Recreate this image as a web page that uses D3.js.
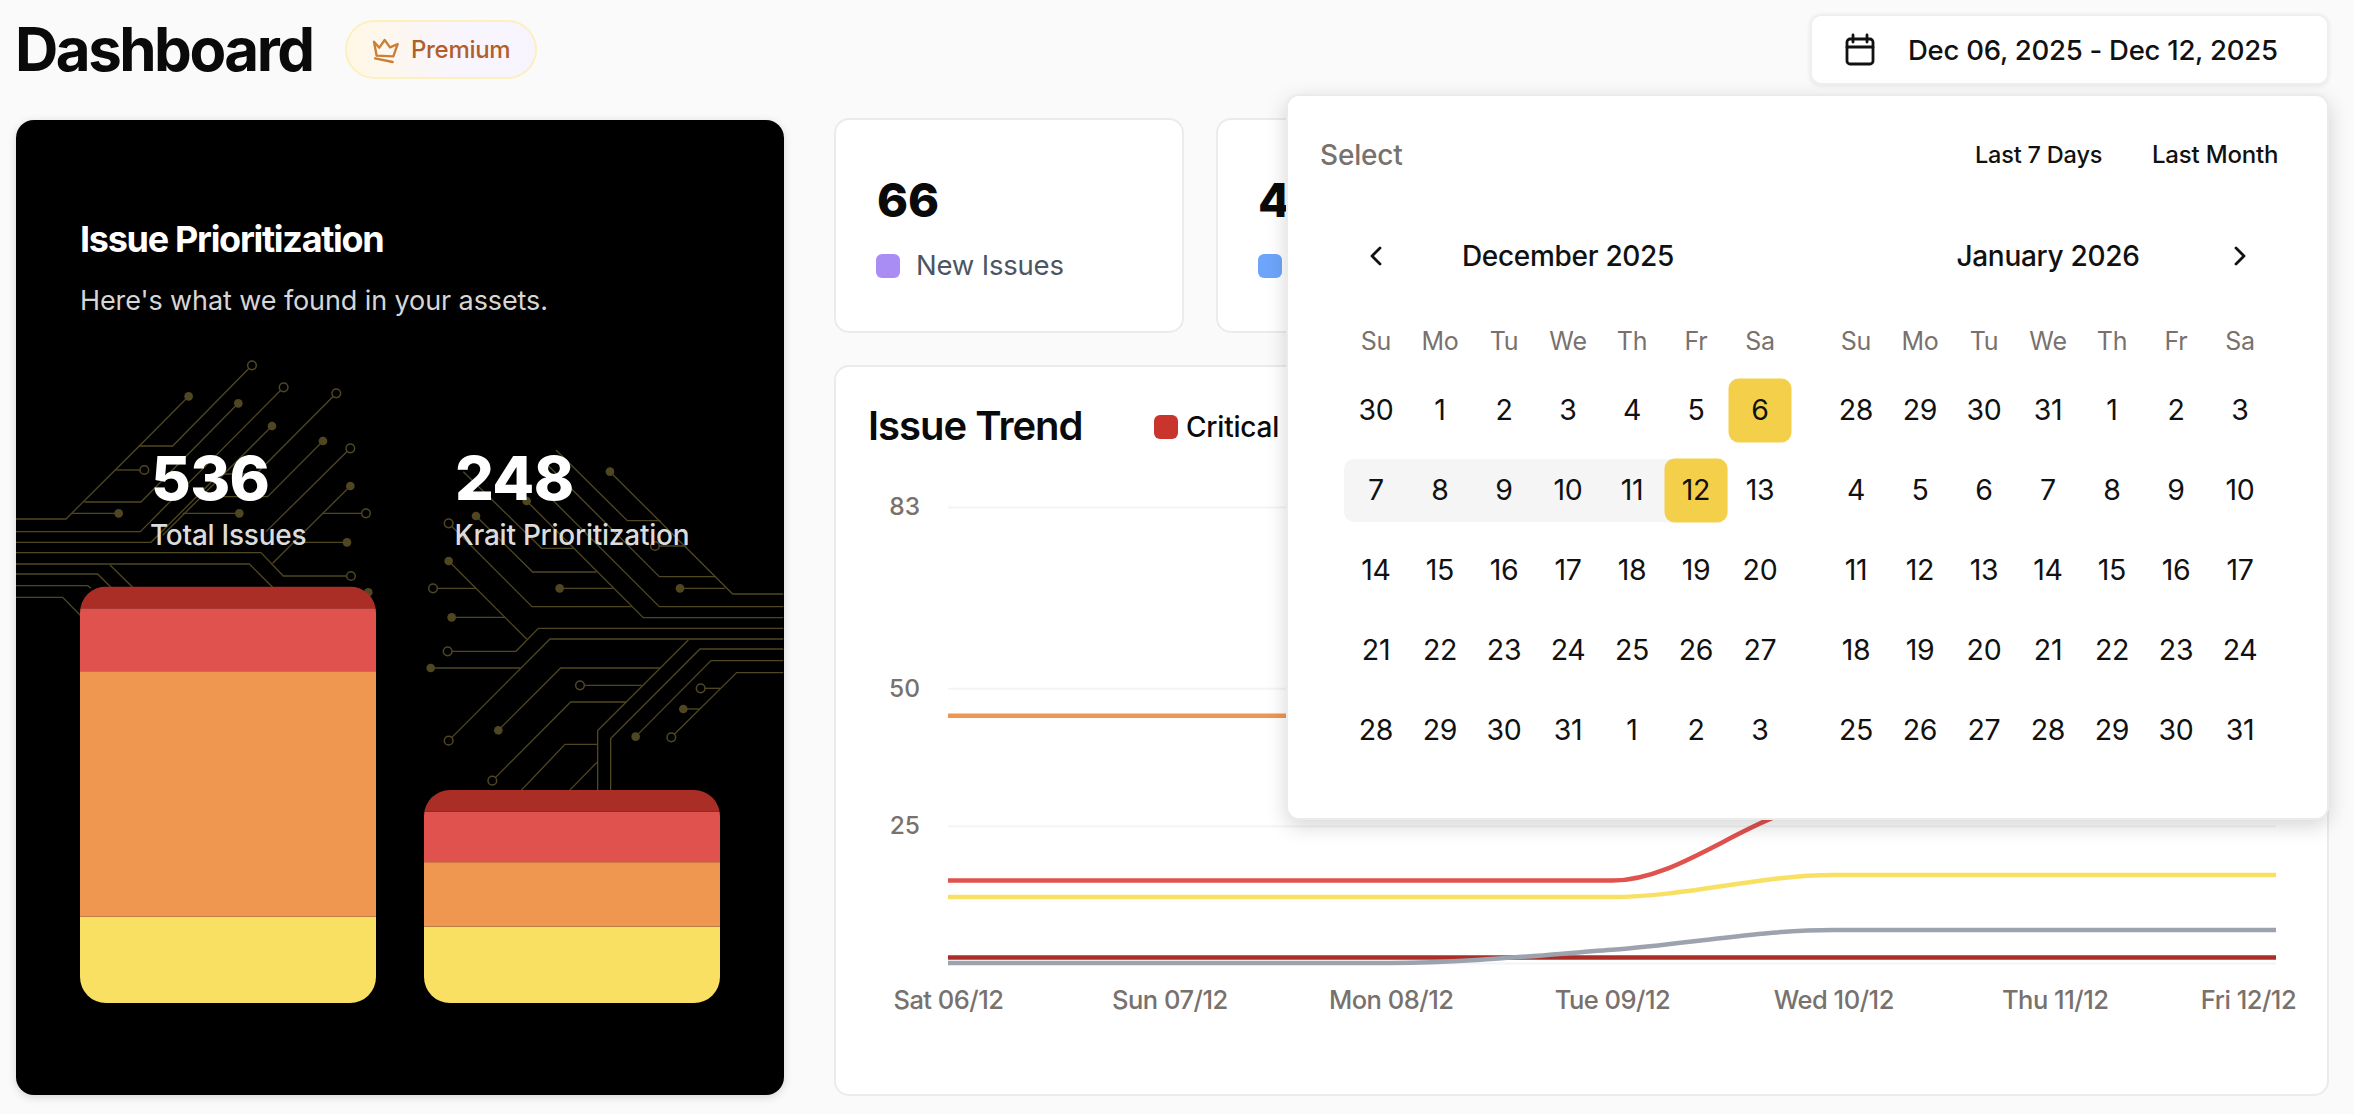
<!DOCTYPE html>
<html>
<head>
<meta charset="utf-8">
<title>Dashboard</title>
<script src="https://cdn.jsdelivr.net/npm/d3@7"></script>
<style>
  html, body { margin: 0; padding: 0; background: #fafafa; }
  svg { display: block; font-family: Inter, "Noto Sans", sans-serif; }
</style>
</head>
<body>
<div id="app"></div>
<script>
// ---- Data ----
const barNames = ['Total Issues', 'Krait Prioritization'];
const barTotals = [536, 248];
const barTops = [586.5, 790];
const severities = ['low', 'medium', 'high', 'critical'];
const lowCounts = [111, 89];
const mediumCounts = [316, 75];
const highCounts = [81, 59];
const criticalCounts = [28, 25];

const trendDays = ['Sat 06/12', 'Sun 07/12', 'Mon 08/12', 'Tue 09/12', 'Wed 10/12', 'Thu 11/12', 'Fri 12/12'];
const trendCritical = [1, 1, 1, 1, 1, 1, 1];
const trendHigh = [15, 15, 15, 15, 29, 29, 29];
const trendMedium = [45, 45, 45, 45, 45, 45, 45];
const trendLow = [12, 12, 12, 12, 16, 16, 16];
const trendInfo = [0, 0, 0, 2.4, 6, 6, 6];
const trendTicks = [0, 25, 50, 83];

const weekDays = ['Su', 'Mo', 'Tu', 'We', 'Th', 'Fr', 'Sa'];
const decemberDays = [
  [30, 1, 2, 3, 4, 5, 6], [7, 8, 9, 10, 11, 12, 13], [14, 15, 16, 17, 18, 19, 20],
  [21, 22, 23, 24, 25, 26, 27], [28, 29, 30, 31, 1, 2, 3]
];
const januaryDays = [
  [28, 29, 30, 31, 1, 2, 3], [4, 5, 6, 7, 8, 9, 10], [11, 12, 13, 14, 15, 16, 17],
  [18, 19, 20, 21, 22, 23, 24], [25, 26, 27, 28, 29, 30, 31]
];

// ---- Colours ----
const colors = { critical: '#AA2D26', high: '#DF524E', medium: '#EF9651', low: '#F9E063', info: '#9CA3AF' };
const circuitColor = '#4F4722';

// ---- SVG Setup ----
const width = 2354;
const height = 1114;
const svg = d3.select('#app').append('svg')
  .attr('width', width)
  .attr('height', height)
  .attr('viewBox', [0, 0, width, height]);

const defs = svg.append('defs');

function label(parent, str, x, y, size, weight, fill, spacing, anchor) {
  return parent.append('text')
    .attr('x', x)
    .attr('y', y)
    .attr('font-size', size)
    .attr('font-weight', weight)
    .attr('fill', fill)
    .attr('letter-spacing', spacing || 0)
    .attr('text-anchor', anchor || 'start')
    .text(str);
}

function card(x, y, w, h, r, fill, stroke, shadow) {
  return svg.append('rect')
    .attr('x', x).attr('y', y).attr('width', w).attr('height', h).attr('rx', r)
    .attr('fill', fill)
    .attr('stroke', stroke || 'none')
    .attr('stroke-width', 2)
    .style('filter', shadow || null);
}

// ---- Header ----
label(svg, 'Dashboard', 15, 71, 60, 700, '#0a0a0a', -2.5);

const pillGrad = defs.append('linearGradient').attr('id', 'pill-gradient');
pillGrad.append('stop').attr('offset', '0%').attr('stop-color', '#FFF8E6');
pillGrad.append('stop').attr('offset', '60%').attr('stop-color', '#F9F5FD');
pillGrad.append('stop').attr('offset', '100%').attr('stop-color', '#F8F4FE');
svg.append('rect')
  .attr('x', 346).attr('y', 21).attr('width', 190).attr('height', 57).attr('rx', 28.5)
  .attr('fill', 'url(#pill-gradient)')
  .attr('stroke', '#FCEFC0')
  .attr('stroke-width', 2);

// crown icon, in coordinates of a 3x crop
const crown = svg.append('g')
  .attr('transform', 'translate(340,15) scale(0.3333)')
  .attr('fill', 'none')
  .attr('stroke', '#CB7E35')
  .attr('stroke-width', 7)
  .attr('stroke-linejoin', 'round')
  .attr('stroke-linecap', 'round');
crown.append('path').attr('d', 'M102,80 L118,98 L134,75 L150,97 L173,87 L160,124 L110,122 Z');
crown.append('path').attr('d', 'M105,130 L158,141');
label(svg, 'Premium', 411, 58, 24, 500, '#B05F2B', -0.3);

// ---- Issue Prioritization card ----
card(16, 120, 768, 975, 18, '#000000', null, 'drop-shadow(0 2px 4px rgba(0,0,0,0.15))');

function circuit(tx, ty, lines, filled, hollow) {
  const g = svg.append('g')
    .attr('transform', `translate(${tx},${ty}) scale(0.3333)`);
  g.selectAll('path')
    .data(lines)
    .join('path')
    .attr('d', d3.line())
    .attr('fill', 'none')
    .attr('stroke', circuitColor)
    .attr('stroke-width', 4);
  g.selectAll('circle.filled')
    .data(filled)
    .join('circle')
    .attr('class', 'filled')
    .attr('cx', d => d[0]).attr('cy', d => d[1]).attr('r', 13)
    .attr('fill', circuitColor);
  g.selectAll('circle.hollow')
    .data(hollow)
    .join('circle')
    .attr('class', 'hollow')
    .attr('cx', d => d[0]).attr('cy', d => d[1]).attr('r', 13)
    .attr('fill', '#000')
    .attr('stroke', circuitColor)
    .attr('stroke-width', 4.5);
}

// left circuit decoration
circuit(16, 350, [
  [[708, 46], [470, 288], [370, 288], [150, 507], [0, 507]],
  [[518, 139], [370, 288]],
  [[803, 112], [373, 545], [0, 545]],
  [[667, 160], [375, 456], [205, 456]],
  [[385, 360], [300, 360]],
  [[308, 490], [170, 490]],
  [[961, 130], [720, 372], [610, 372], [405, 577], [0, 577]],
  [[768, 228], [440, 556]],
  [[670, 490], [500, 490]],
  [[921, 273], [755, 440], [590, 440]],
  [[1003, 295], [750, 545]],
  [[1003, 408], [770, 640]],
  [[1050, 490], [921, 490]],
  [[993, 577], [855, 577]],
  [[0, 608], [735, 608], [802, 678], [1005, 678]],
  [[0, 642], [700, 642], [770, 712]],
  [[282, 645], [350, 712]],
  [[0, 672], [245, 672], [285, 712]],
  [[0, 707], [215, 707], [225, 715]],
  [[0, 742], [140, 742], [195, 798]],
  [[1057, 727], [1030, 745]]
], [[518, 139], [667, 160], [768, 228], [921, 273], [1003, 408], [308, 490], [670, 490], [993, 577], [1057, 727]],
[[708, 46], [803, 112], [961, 130], [385, 360], [1003, 295], [1050, 490], [1005, 678]]);

// right circuit decoration
circuit(400, 450, [
  [[630, 65], [998, 432], [1150, 432]],
  [[468, 0], [682, 212], [782, 212]],
  [[443, 45], [778, 380], [948, 380]],
  [[450, 142], [778, 470], [1150, 470]],
  [[380, 153], [730, 503], [1150, 503]],
  [[228, 198], [398, 366], [590, 366]],
  [[146, 220], [396, 470], [695, 470]],
  [[190, 65], [425, 295], [520, 295]],
  [[146, 333], [380, 567]],
  [[99, 415], [228, 415]],
  [[155, 502], [315, 502]],
  [[143, 604], [348, 604], [415, 535], [1150, 535]],
  [[92, 654], [362, 654]],
  [[146, 872], [450, 567], [1150, 567]],
  [[295, 841], [482, 654], [780, 654]],
  [[277, 992], [512, 756], [680, 756]],
  [[360, 1025], [495, 883], [593, 883]],
  [[505, 1025], [593, 935]],
  [[593, 1025], [593, 842], [865, 570]],
  [[632, 1025], [632, 866], [900, 597], [1150, 597]],
  [[707, 860], [933, 632], [1150, 632]],
  [[814, 862], [1010, 668], [1150, 668]],
  [[540, 706], [725, 706]],
  [[902, 715], [960, 715]],
  [[850, 777], [900, 777]],
  [[840, 415], [975, 415]],
  [[479, 415], [640, 415]],
  [[765, 288], [860, 288]]
], [[630, 65], [380, 153], [228, 198], [146, 333], [155, 502], [92, 654], [295, 841], [707, 860], [850, 777], [840, 415], [479, 415]],
[[146, 220], [99, 415], [143, 604], [146, 872], [277, 992], [814, 862], [540, 706], [902, 715], [765, 288]]);

label(svg, 'Issue Prioritization', 80, 252, 36, 700, '#ffffff', -1.3);
label(svg, "Here's what we found in your assets.", 80, 310, 27, 400, '#d6d6d6', -0.1);

// ---- Stacked bars ----
const barX = d3.scaleBand().domain(barNames).range([80, 720]).paddingInner(48 / 344);
const barBottom = 1003;
const barRows = barNames.map((name, i) => ({
  name,
  low: lowCounts[i],
  medium: mediumCounts[i],
  high: highCounts[i],
  critical: criticalCounts[i]
}));
const stacked = d3.stack().keys(severities)(barRows);

barNames.forEach((name, i) => {
  const yBar = d3.scaleLinear().domain([0, barTotals[i]]).range([barBottom, barTops[i]]);
  const clipId = `bar-clip-${i}`;
  defs.append('clipPath').attr('id', clipId)
    .append('rect')
    .attr('x', barX(name))
    .attr('y', yBar(barTotals[i]))
    .attr('width', barX.bandwidth())
    .attr('height', barBottom - yBar(barTotals[i]))
    .attr('rx', 26);

  svg.append('g')
    .attr('clip-path', `url(#${clipId})`)
    .selectAll('rect')
    .data(stacked)
    .join('rect')
    .attr('x', barX(name))
    .attr('width', barX.bandwidth())
    .attr('y', s => yBar(s[i][1]))
    .attr('height', s => yBar(s[i][0]) - yBar(s[i][1]))
    .attr('fill', s => colors[s.key]);

  const textX = [151, 455][i];
  label(svg, d3.format('d')(barTotals[i]), textX, 500, 61, 800, '#ffffff', -0.6);
  label(svg, name, textX - 1 + i * 0.5, 545, 28, 500, '#dcdcdc', -0.25);
});

// ---- Stat cards ----
card(835, 119, 348, 213, 14, '#ffffff', '#E9EBEF');
card(1217, 119, 348, 213, 14, '#ffffff', '#E9EBEF');
label(svg, '66', 877, 217, 47, 800, '#0a0a0a', 0);
label(svg, '4', 1258, 217, 47, 800, '#0a0a0a', 0);
svg.append('rect').attr('x', 876).attr('y', 254).attr('width', 24).attr('height', 24).attr('rx', 6).attr('fill', '#A98DF5');
svg.append('rect').attr('x', 1258).attr('y', 254).attr('width', 24).attr('height', 24).attr('rx', 6).attr('fill', '#6EA5FA');
label(svg, 'New Issues', 916, 275, 27.5, 400, '#4B5563', -0.2);

// ---- Issue Trend card ----
card(835, 366, 1493, 729, 14, '#ffffff', '#E9EBEF');
label(svg, 'Issue Trend', 868, 440, 40, 600, '#0a0a0a', -1);
svg.append('rect').attr('x', 1154).attr('y', 415).attr('width', 24).attr('height', 24).attr('rx', 6).attr('fill', '#C9342C');
label(svg, 'Critical', 1186, 437, 28, 500, '#0a0a0a', -0.2);

const xTrend = d3.scalePoint().domain(trendDays).range([948, 2276]);
const yTrend = d3.scaleLinear().domain([0, 83]).range([963, 507]);

const yAxisG = svg.append('g')
  .attr('transform', 'translate(948,0)')
  .call(d3.axisLeft(yTrend)
    .tickValues(trendTicks)
    .tickSize(-1328)
    .tickPadding(28)
    .tickFormat(d => d === 0 ? '' : d));
yAxisG.select('.domain').remove();
yAxisG.selectAll('line').attr('stroke', '#F3F4F6').attr('stroke-width', 2);
yAxisG.selectAll('text').attr('font-size', 24.5).attr('font-family', 'Inter').attr('font-weight', 500).attr('fill', '#78716C');

const xAxisG = svg.append('g')
  .attr('transform', 'translate(0,963)')
  .call(d3.axisBottom(xTrend).tickSize(0).tickPadding(28));
xAxisG.select('.domain').remove();
xAxisG.selectAll('text')
  .attr('font-size', 25.5)
  .attr('font-family', 'Inter')
  .attr('font-weight', 500)
  .attr('letter-spacing', -0.5)
  .attr('fill', '#78716C')
  .attr('dx', (d, i) => i === trendDays.length - 1 ? -28 : 0);

const trendLine = d3.line()
  .x((d, i) => xTrend(trendDays[i]))
  .y(d => yTrend(d))
  .curve(d3.curveMonotoneX);

const trendSeries = [
  { values: trendMedium, color: colors.medium },
  { values: trendHigh, color: colors.high },
  { values: trendLow, color: colors.low },
  { values: trendCritical, color: colors.critical },
  { values: trendInfo, color: colors.info }
];
svg.append('g').selectAll('path')
  .data(trendSeries)
  .join('path')
  .attr('d', d => trendLine(d.values))
  .attr('fill', 'none')
  .attr('stroke', d => d.color)
  .attr('stroke-width', 4.5);

// ---- Date range button ----
card(1811, 15, 517, 69, 10, '#ffffff', '#EFEFEF', 'drop-shadow(0 1px 2px rgba(0,0,0,0.08))');
const calIcon = svg.append('g')
  .attr('fill', 'none')
  .attr('stroke', '#111')
  .attr('stroke-width', 2.8)
  .attr('stroke-linecap', 'round');
calIcon.append('rect').attr('x', 1847).attr('y', 39).attr('width', 26).attr('height', 25).attr('rx', 3);
calIcon.append('path').attr('d', 'M1847,47 H1873 M1853,35 V42 M1867,35 V42');
label(svg, 'Dec 06, 2025 - Dec 12, 2025', 1908, 60, 27.5, 500, '#111', -0.25);

// ---- Date picker popup ----
card(1287, 95, 1041, 724, 12, '#ffffff', '#EBEBEB', 'drop-shadow(0 6px 10px rgba(0,0,0,0.16))');
label(svg, 'Select', 1320, 165, 28, 500, '#78716C', -0.2);
label(svg, 'Last 7 Days', 1975, 163, 23.5, 500, '#111', -0.2);
label(svg, 'Last Month', 2152, 163, 24, 500, '#111', -0.2);

const chevrons = svg.append('g')
  .attr('fill', 'none')
  .attr('stroke', '#111')
  .attr('stroke-width', 2.8)
  .attr('stroke-linecap', 'round')
  .attr('stroke-linejoin', 'round');
chevrons.append('path').attr('d', 'M1380,248 L1372,256 L1380,264');
chevrons.append('path').attr('d', 'M2236,248 L2244,256 L2236,264');

label(svg, 'December 2025', 1568, 266, 28, 500, '#111', -0.3, 'middle');
label(svg, 'January 2026', 2048, 266, 28, 500, '#111', -0.3, 'middle');

// selection highlights sit under the day numbers
const decX = d3.scaleBand().domain(d3.range(7)).range([1344, 1792]);
const janX = d3.scaleBand().domain(d3.range(7)).range([1824, 2272]);
const rowY = d3.scaleBand().domain(d3.range(5)).range([370, 770]);

svg.append('rect')
  .attr('x', decX(0))
  .attr('y', rowY(1) + 9)
  .attr('width', decX(5) + decX.bandwidth() - decX(0))
  .attr('height', 63)
  .attr('rx', 10)
  .attr('fill', '#F5F5F5');
[[6, 0], [5, 1]].forEach(([col, row]) => {
  svg.append('rect')
    .attr('x', decX(col) + 0.5)
    .attr('y', rowY(row) + 8.5)
    .attr('width', 63)
    .attr('height', 64)
    .attr('rx', 10)
    .attr('fill', '#F4D04A');
});

function calendar(xScale, rows) {
  weekDays.forEach((d, i) => {
    label(svg, d, xScale(i) + xScale.bandwidth() / 2, 350, 25, 400, '#78716C', -0.2, 'middle');
  });
  rows.forEach((row, r) => {
    svg.append('g').selectAll('text')
      .data(row)
      .join('text')
      .attr('x', (d, i) => xScale(i) + xScale.bandwidth() / 2)
      .attr('y', rowY(r) + rowY.bandwidth() / 2 + 10)
      .attr('text-anchor', 'middle')
      .attr('font-size', 28.5)
      .attr('letter-spacing', -0.3)
      .attr('fill', '#111')
      .text(d => d);
  });
}
calendar(decX, decemberDays);
calendar(janX, januaryDays);
</script>
</body>
</html>
